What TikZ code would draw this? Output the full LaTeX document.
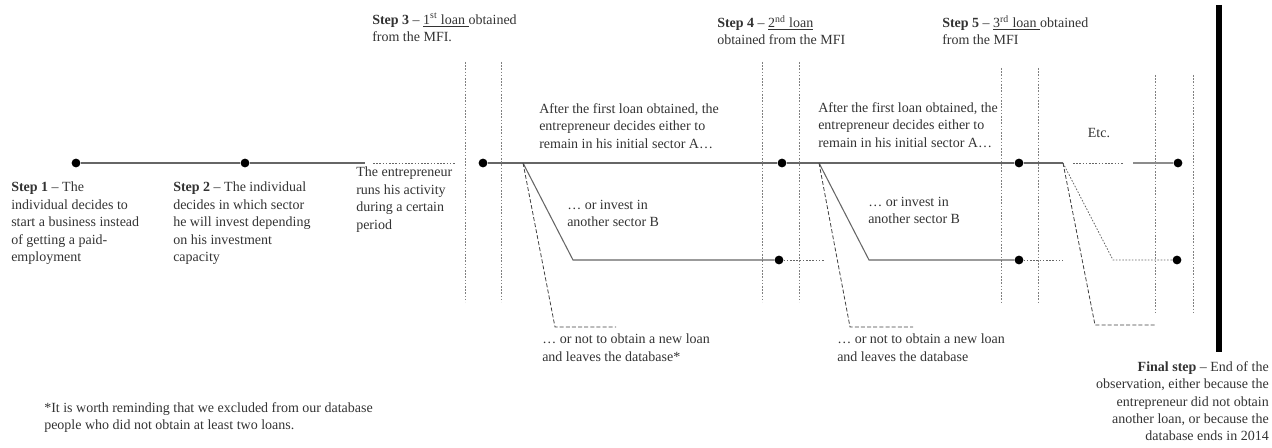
\documentclass[tikz,border=0pt]{standalone}
\usepackage{fontspec}
\setmainfont{Liberation Serif}
\usepackage{tikz}
\usetikzlibrary{positioning}

\begin{document}
\begin{tikzpicture}[x=0.75pt, y=-0.75pt,
    dot/.style={circle, fill=black, inner sep=0pt, minimum size=6.6pt},
    txt/.style={anchor=north west, align=left, inner sep=0pt, text=black!80,
        font=\fontsize{10.5}{13.1}\selectfont},
    path/.style={draw=black!60, line width=0.8pt},
    dotline/.style={draw=black!60, line width=0.6pt, dash pattern=on 1.2pt off 1.2pt},
    dashline/.style={draw=black!75, line width=0.6pt, dash pattern=on 3pt off 1.6pt},
    sep/.style={draw=black!50, line width=0.5pt, dash pattern=on 1.2pt off 1.2pt}]
    \useasboundingbox (0,0) rectangle (1272,448);

    % time line before the first loan
    \node[dot] (d1) at (76,163) {};
    \node[dot] (d2) at (245,163) {};
    \coordinate (run1) at (365,163);
    \coordinate (run2) at (373,163);
    \coordinate (run3) at (455,163);
    \draw[path] (d1) -- (d2) -- (run1);
    \draw[dotline] (run2) -- (run3);

    \node[txt] (s1) at (11,182) {\textbf{Step 1} -- The\\individual decides to\\start a business instead\\of getting a paid-\\employment};
    \node[txt] (s2) at (173,182) {\textbf{Step 2} -- The individual\\decides in which sector\\he will invest depending\\on his investment\\capacity};
    \node[txt] (run) at (356,167) {The entrepreneur\\runs his activity\\during a certain\\period};

    % loans
    \node[dot] (d3) at (483,163) {};
    \node[dot] (d4) at (782,163) {};
    \node[dot] (d5) at (1019,163) {};
    \coordinate (e5) at (1063,163);
    \draw[path] (d3) -- (d4) -- (d5) -- (e5);

    \node[txt] (s3) at (372,13) {\textbf{Step 3} -- \underline{1\textsuperscript{st} loan }obtained\\from the MFI.};
    \node[txt] (s4) at (717,15) {\textbf{Step 4} -- \underline{2\textsuperscript{nd} loan}\\obtained from the MFI};
    \node[txt] (s5) at (942,15) {\textbf{Step 5} -- \underline{3\textsuperscript{rd} loan }obtained\\from the MFI};

    % separators
    \foreach \xx/\ya/\yb in {465/62/302, 501/62/302, 762/62/302, 799/62/302,
        1001/68/302, 1038/68/302, 1155/75/313, 1193/75/313}
        \draw[sep] (\xx,\ya) -- (\xx,\yb);

    % first branching
    \coordinate (f1) at (523,163);
    \coordinate (g1) at (573,260);
    \node[dot] (b4) at (779,260) {};
    \coordinate (h4) at (825,260);
    \coordinate (k1) at (555,327);
    \coordinate (m1) at (616,327);
    \draw[path] (f1) -- (g1) -- (b4);
    \draw[dotline] (b4) -- (h4);
    \draw[dashline] (f1) -- (k1) -- (m1);

    \node[txt] (after1) at (539,103) {After the first loan obtained, the\\entrepreneur decides either to\\remain in his initial sector A\ldots};
    \node[txt] (inv1) at (567,200) {\ldots{} or invest in\\another sector B};
    \node[txt] (leave1) at (542,334) {\ldots{} or not to obtain a new loan\\and leaves the database*};

    % second branching
    \coordinate (f2) at (819,163);
    \coordinate (g2) at (869,260);
    \node[dot] (b5) at (1019,260) {};
    \coordinate (h5) at (1063,260);
    \coordinate (k2) at (850,327);
    \coordinate (m2) at (913,327);
    \draw[path] (f2) -- (g2) -- (b5);
    \draw[dotline] (b5) -- (h5);
    \draw[dashline] (f2) -- (k2) -- (m2);

    \node[txt] (after2) at (818,102) {After the first loan obtained, the\\entrepreneur decides either to\\remain in his initial sector A\ldots};
    \node[txt] (inv2) at (868,197) {\ldots{} or invest in\\another sector B};
    \node[txt] (leave2) at (837,334) {\ldots{} or not to obtain a new loan\\and leaves the database};

    % third branching
    \coordinate (g3) at (1113,260);
    \node[dot] (b6) at (1177,260) {};
    \coordinate (k3) at (1095,325);
    \coordinate (m3) at (1155,325);
    \draw[dotline] (e5) -- (g3) -- (b6);
    \draw[dashline] (e5) -- (k3) -- (m3);

    \coordinate (etc1) at (1073,163);
    \coordinate (etc2) at (1123,163);
    \coordinate (etc3) at (1133,163);
    \node[dot] (d6) at (1178,163) {};
    \draw[dotline] (etc1) -- (etc2);
    \draw[draw=black!45, line width=0.8pt] (etc3) -- (d6);
    \node[txt, anchor=center] (etc) at (1099,133) {Etc.};

    % end of observation
    \coordinate (endtop) at (1219,5);
    \coordinate (endbot) at (1219,352);
    \draw[line width=4.5pt] (endtop) -- (endbot);
    \node[txt, anchor=north east, align=right] (final) at (1269,361) {\textbf{Final step} -- End of the\\observation, either because the\\entrepreneur did not obtain\\another loan, or because the\\database ends in 2014};

    \node[txt] (foot) at (44,402) {*It is worth reminding that we excluded from our database\\people who did not obtain at least two loans.};
\end{tikzpicture}
\end{document}
